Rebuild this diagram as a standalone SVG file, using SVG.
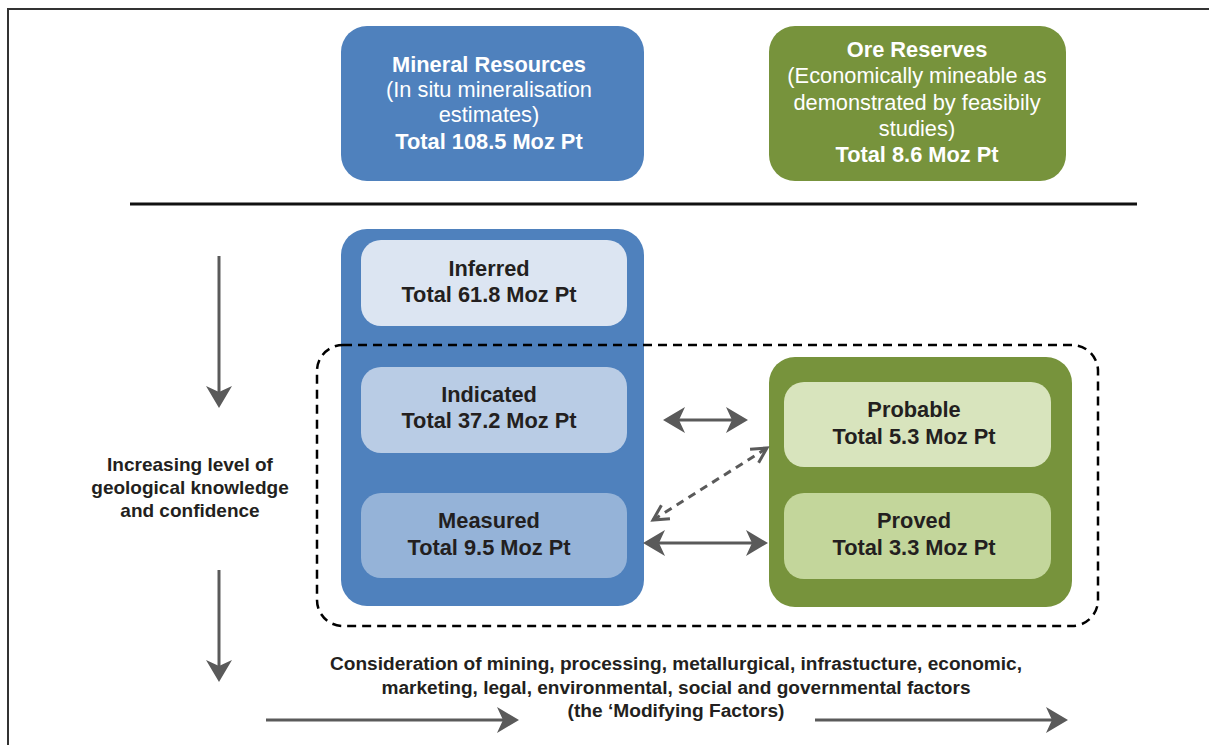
<svg xmlns="http://www.w3.org/2000/svg" width="1209" height="745" viewBox="0 0 1209 745">
<style>
text{font-family:"Liberation Sans",Arial,sans-serif;text-anchor:middle}
.w{fill:#ffffff;font-size:21.8px}
.b{font-weight:bold}
.d{fill:#231f20;font-size:21.8px;font-weight:bold}
.l{fill:#231f20;font-size:19px;font-weight:bold}
.f{fill:#231f20;font-size:18px;font-weight:bold}
.blue{fill:#4f81bd}
.green{fill:#77933c}
.arr{stroke:#5a5a5a;stroke-width:3;fill:none}
</style>
<defs>
<marker id="head" viewBox="0 0 22 26" refX="10" refY="13" markerWidth="22" markerHeight="26" markerUnits="userSpaceOnUse" orient="auto-start-reverse">
<path d="M0,0 L22,13 L0,26 L6,13 Z" fill="#5a5a5a"/>
</marker>
<marker id="open" viewBox="0 0 20 20" refX="17" refY="10" markerWidth="20" markerHeight="20" markerUnits="userSpaceOnUse" orient="auto-start-reverse">
<path d="M2,2 L17,10 L2,18" fill="none" stroke="#5a5a5a" stroke-width="3"/>
</marker>
</defs>
<rect width="1209" height="745" fill="#ffffff"/>
<path d="M8,745 V9 H1209" fill="none" stroke="#333" stroke-width="2"/>
<line x1="130" y1="204" x2="1137" y2="204" stroke="#111" stroke-width="3"/>

<g id="mineral-resources">
<rect x="341" y="26" width="303" height="155" rx="26" class="blue"/>
<text x="489" y="72" class="w b">Mineral Resources</text>
<text x="489" y="97" class="w">(In situ mineralisation</text>
<text x="489" y="122" class="w">estimates)</text>
<text x="489" y="149" class="w b">Total 108.5 Moz Pt</text>
</g>
<g id="ore-reserves">
<rect x="769" y="26" width="297" height="155" rx="26" class="green"/>
<text x="917" y="57" class="w b">Ore Reserves</text>
<text x="917" y="83" class="w">(Economically mineable as</text>
<text x="917" y="110" class="w">demonstrated by feasibily</text>
<text x="917" y="136" class="w">studies)</text>
<text x="917" y="162" class="w b">Total 8.6 Moz Pt</text>
</g>

<g id="resources-column">
<rect x="341" y="229" width="303" height="377" rx="26" class="blue"/>
</g>
<g id="inferred">
<rect x="361" y="240" width="266" height="86" rx="20" fill="#dce5f2"/>
<text x="489" y="276" class="d">Inferred</text>
<text x="489" y="302" class="d">Total 61.8 Moz Pt</text>
</g>
<g id="indicated">
<rect x="361" y="367" width="266" height="86" rx="20" fill="#b9cce5"/>
<text x="489" y="402" class="d">Indicated</text>
<text x="489" y="428" class="d">Total 37.2 Moz Pt</text>
</g>
<g id="measured">
<rect x="361" y="493" width="266" height="85" rx="20" fill="#95b3d8"/>
<text x="489" y="528" class="d">Measured</text>
<text x="489" y="555" class="d">Total 9.5 Moz Pt</text>
</g>

<g id="reserves-column">
<rect x="769" y="357" width="303" height="250" rx="26" class="green"/>
</g>
<g id="probable">
<rect x="784" y="382" width="267" height="85" rx="20" fill="#d8e4bd"/>
<text x="914" y="417" class="d">Probable</text>
<text x="914" y="444" class="d">Total 5.3 Moz Pt</text>
</g>
<g id="proved">
<rect x="784" y="493" width="267" height="86" rx="20" fill="#c3d69b"/>
<text x="914" y="528" class="d">Proved</text>
<text x="914" y="555" class="d">Total 3.3 Moz Pt</text>
</g>

<g id="modifying-boundary">
<rect x="317" y="345" width="781" height="281" rx="26" fill="none" stroke="#000" stroke-width="2.5" stroke-dasharray="9 6"/>
</g>

<g id="knowledge-label">
<text x="190" y="471" class="l">Increasing level of</text>
<text x="190" y="494" class="l">geological knowledge</text>
<text x="190" y="517" class="l">and confidence</text>
</g>
<g id="factors-label">
<text x="676" y="670" class="f" textLength="692" lengthAdjust="spacingAndGlyphs">Consideration of mining, processing, metallurgical, infrastucture, economic,</text>
<text x="676" y="694" class="f" textLength="589" lengthAdjust="spacingAndGlyphs">marketing, legal, environmental, social and governmental factors</text>
<text x="676" y="717" class="f" textLength="217" lengthAdjust="spacingAndGlyphs">(the ‘Modifying Factors)</text>
</g>

<g id="connectors">
<line x1="219" y1="256" x2="219" y2="396" class="arr" marker-end="url(#head)"/>
<line x1="219" y1="570" x2="219" y2="670" class="arr" marker-end="url(#head)"/>
<line x1="675" y1="420" x2="736" y2="420" class="arr" marker-start="url(#head)" marker-end="url(#head)"/>
<line x1="655" y1="543" x2="756" y2="543" class="arr" marker-start="url(#head)" marker-end="url(#head)"/>
<line x1="653" y1="520" x2="767" y2="448" class="arr" stroke-dasharray="8 6" marker-start="url(#open)" marker-end="url(#open)"/>
<line x1="266" y1="720" x2="507" y2="720" class="arr" marker-end="url(#head)"/>
<line x1="815" y1="720" x2="1056" y2="720" class="arr" marker-end="url(#head)"/>
</g>
</svg>
